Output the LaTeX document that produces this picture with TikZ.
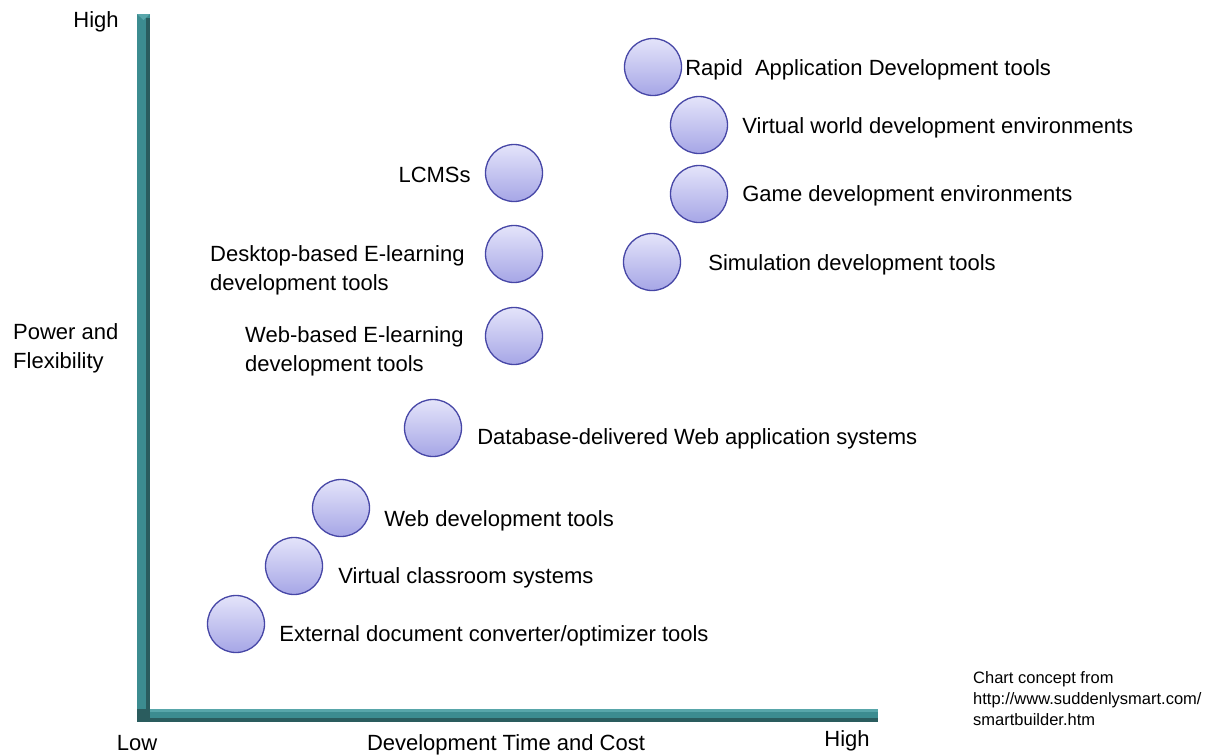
\documentclass[tikz,border=0pt]{standalone}
\usepackage{fontspec}
\setmainfont{Liberation Sans}
\usetikzlibrary{positioning}

\definecolor{axisteal}{HTML}{3C8C90}
\definecolor{axisdark}{HTML}{2A5C5E}
\definecolor{axislight}{HTML}{58A6AA}
\definecolor{dotedge}{HTML}{4646A6}
\definecolor{dottop}{HTML}{E4E4FA}
\definecolor{dotbottom}{HTML}{A6A6E6}

\tikzset{
    dot/.style={circle, draw=dotedge, line width=1.3pt, minimum size=57pt,
        inner sep=0pt, top color=dottop, bottom color=dotbottom},
    lbl/.style={font=\fontsize{22}{29}\selectfont, inner sep=0pt, align=left},
    note/.style={font=\fontsize{16.5}{21}\selectfont, inner sep=0pt, align=left}
}

\begin{document}
\begin{tikzpicture}[x=1pt, y=-1pt, node distance=12pt]
    \useasboundingbox (0,0) rectangle (1228,755);

    % axes
    \fill[axisteal]  (137,14) rectangle (150,722);
    \fill[axisdark]  (146,18) rectangle (150,722);
    \fill[axislight] (137,14) -- (150,14) -- (143.5,20) -- cycle;
    \fill[axisteal]  (137,709) rectangle (878,722);
    \fill[axislight] (150,709) rectangle (878,712);
    \fill[axisdark]  (150,718) rectangle (878,722);
    \fill[axisdark]  (137,709) -- (150,709) -- (150,722) -- (137,722) -- cycle;

    % axis texts
    \node[lbl]                 (yHigh)  at (96,22)   {High};
    \node[lbl]                 (xLow)   at (137,743) {Low};
    \node[lbl]                 (xTitle) at (506,745) {Development Time and Cost};
    \node[lbl]                 (xHigh)  at (847,741) {High};
    \node[lbl, anchor=west]    (yTitle) at (13,348)  {Power and\\Flexibility};

    % circles
    \node[dot] (Rapid)    at (653,67)  {};
    \node[dot] (World)    at (699,125) {};
    \node[dot] (Game)     at (699,194) {};
    \node[dot] (Sim)      at (652,262) {};
    \node[dot] (LCMS)     at (514,173) {};
    \node[dot] (Desktop)  at (514,254) {};
    \node[dot] (WebBased) at (514,336) {};
    \node[dot] (Database) at (433,428) {};
    \node[dot] (WebDev)   at (341,508) {};
    \node[dot] (Class)    at (294,566) {};
    \node[dot] (External) at (236,624) {};

    % labels
    \node[lbl, right=3pt of Rapid, yshift=-3pt]   {Rapid\ \ Application Development tools};
    \node[lbl, right=14pt of World, yshift=-3pt]  {Virtual world development environments};
    \node[lbl, right=14pt of Game, yshift=-2pt]   {Game development environments};
    \node[lbl, right=27pt of Sim, yshift=-3pt]    {Simulation development tools};
    \node[lbl, left=14pt of LCMS, yshift=-2pt]    {LCMSs};
    \node[lbl, anchor=west] at (210,270) {Desktop-based E-learning\\development tools};
    \node[lbl, anchor=west] at (245,351) {Web-based E-learning\\development tools};
    \node[lbl, right=15pt of Database, yshift=-11pt] {Database-delivered Web application systems};
    \node[lbl, right=14pt of WebDev, yshift=-13pt]   {Web development tools};
    \node[lbl, right=15pt of Class, yshift=-12pt]    {Virtual classroom systems};
    \node[lbl, right=14pt of External, yshift=-12pt] {External document converter/optimizer tools};

    % source note
    \node[note, anchor=west] (Source) at (973,699) {Chart concept from\\http://www.suddenlysmart.com/\\smartbuilder.htm};
\end{tikzpicture}
\end{document}
